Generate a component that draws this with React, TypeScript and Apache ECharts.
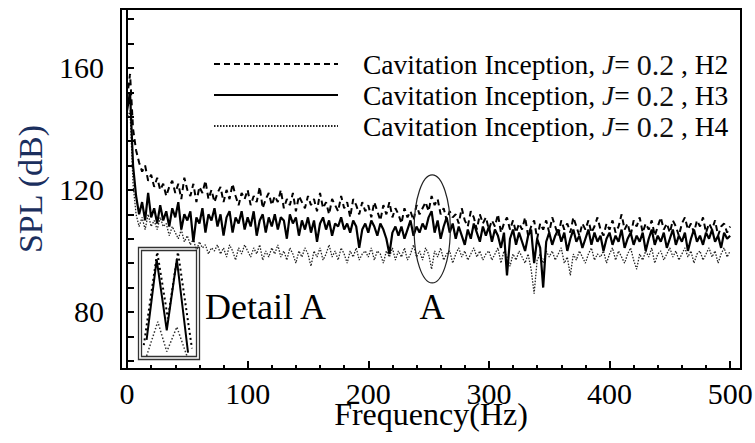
import React, { useEffect, useRef } from "react";
import * as echarts from "echarts";

// Frequency resolution of the spectra (Hz per bin)
const DF = 2.5;

// SPL (dB), Cavitation Inception J=0.2, hydrophone H2 (dashed)
const H2 = [
  150, 158, 140, 133, 129, 126, 128, 123, 125, 121,
  124, 120, 122, 118, 121, 123, 119, 122, 117, 124,
  120, 118, 122, 116, 121, 119, 123, 117, 120, 116,
  119, 121, 116, 120, 117, 122, 118, 115, 119, 117,
  120, 115, 118, 116, 121, 114, 117, 119, 115, 118,
  116, 120, 114, 117, 115, 119, 113, 118, 116, 114,
  118, 115, 117, 113, 119, 114, 116, 112, 117, 115,
  113, 118, 114, 116, 111, 117, 115, 112, 116, 113,
  115, 111, 116, 113, 110, 115, 112, 116, 111, 114,
  112, 109, 114, 111, 113, 110, 115, 112, 114, 116,
  113, 118, 115, 117, 112, 114, 110, 113, 111, 112,
  109, 114, 110, 108, 113, 111, 107, 112, 109, 111,
  107, 110, 108, 112, 106, 109, 111, 107, 110, 106,
  109, 107, 111, 105, 108, 110, 104, 109, 107, 110,
  106, 111, 108, 105, 110, 107, 109, 106, 111, 108,
  105, 109, 107, 110, 106, 108, 111, 107, 105, 109,
  107, 110, 106, 108, 112, 107, 109, 105, 110, 108,
  111, 106, 109, 107, 110, 105, 108, 111, 107, 109,
  106, 110, 108, 105, 109, 111, 107, 109, 106, 110,
  108, 111, 106, 109, 107, 110, 105, 108, 109, 106,
  108,
];

// SPL (dB), hydrophone H3 (solid)
const H3 = [
  146, 152, 128, 118, 112, 116, 110, 119, 111, 114,
  109, 115, 110, 113, 108, 114, 111, 116, 107, 112,
  110, 113, 103, 111, 109, 114, 106, 112, 110, 114,
  108, 112, 105, 111, 113, 106, 111, 109, 113, 107,
  111, 108, 113, 105, 110, 112, 106, 111, 108, 112,
  107, 111, 110, 104, 112, 109, 111, 105, 110, 107,
  111, 106, 110, 103, 109, 111, 107, 110, 105, 109,
  108, 111, 107, 109, 106, 110, 108, 101, 107, 109,
  106, 110, 108, 105, 109, 107, 104, 99, 106, 108,
  105, 108, 104, 107, 110, 105, 108, 106, 109, 107,
  111, 113, 106, 110, 104, 108, 111, 106, 109, 104,
  108, 105, 102, 107, 104, 109, 106, 103, 108, 105,
  108, 103, 107, 105, 101, 106, 92, 104, 107, 102,
  106, 103, 100, 105, 107, 96, 104, 101, 88, 103,
  106, 102, 105, 107, 103, 106, 100, 104, 107, 103,
  105, 101, 104, 107, 102, 106, 103, 105, 100, 104,
  106, 102, 105, 103, 107, 101, 104, 106, 102, 105,
  103, 106, 100, 104, 107, 102, 105, 103, 106, 101,
  104, 107, 102, 105, 103, 106, 100, 104, 107, 103,
  105, 102, 106, 104, 107, 103, 105, 101, 106, 104,
  105,
];

// SPL (dB), hydrophone H4 (dotted)
const H4 = [
  143, 146, 122, 112, 108, 111, 107, 112, 108, 110,
  107, 111, 108, 109, 105, 108, 106, 104, 107, 103,
  105, 102, 104, 100, 103, 101, 102, 99, 101, 100,
  102, 99, 101, 98, 102, 100, 97, 101, 99, 102,
  100, 98, 101, 99, 102, 97, 100, 98, 101, 99,
  102, 98, 100, 97, 101, 99, 96, 100, 98, 101,
  99, 95, 100, 98, 101, 97, 99, 102, 98, 100,
  97, 101, 99, 96, 100, 98, 101, 97, 99, 100,
  98, 101, 97, 100, 99, 96, 100, 98, 101, 97,
  100, 98, 101, 97, 99, 102, 98, 100, 97, 101,
  99, 94, 100, 98, 101, 97, 99, 100, 96, 99,
  101, 98, 100, 97, 99, 101, 98, 100, 97, 99,
  100, 97, 99, 101, 96, 100, 98, 95, 99, 97,
  100, 98, 96, 99, 94, 86, 97, 99, 96, 100,
  98, 100, 97, 99, 101, 96, 98, 92, 99, 97,
  100, 98, 96, 99, 101, 97, 99, 98, 100, 96,
  99, 101, 97, 100, 98, 96, 99, 101, 97, 94,
  99, 97, 100, 98, 101, 96, 99, 100, 97, 99,
  101, 98, 100, 97, 99, 101, 98, 100, 96, 99,
  100, 97, 99, 101, 98, 100, 96, 99, 101, 98,
  100,
];

const SERIES_NAMES = ["H2", "H3", "H4"];

// Axis ticks / labels
const X_LABELS = [0, 100, 200, 300, 400, 500];
const X_MINOR = [20, 40, 60, 80, 120, 140, 160, 180, 220, 240, 260, 280, 320, 340, 360, 380, 420, 440, 460, 480];
const Y_LABELS = [80, 120, 160];
const Y_TICKS = [64, 72, 80, 88, 96, 104, 112, 120, 128, 136, 144, 152, 160, 168, 176];

// "Detail A" inset sketch (relative units: x 0..10, y 0..100)
const INSET_H2 = [[0.5, 11], [2.9, 98], [4.8, 36], [6.6, 98], [9.1, 8]];
const INSET_H3 = [[1.0, 16], [2.8, 91], [4.6, 25], [6.4, 91], [8.4, 4]];
const INSET_H4 = [[1.0, 1], [3.0, 33], [4.6, 5], [6.4, 28], [8.2, 1]];

// Ellipse annotation "A" (data coordinates)
const ELLIPSE_CENTER = [253, 107.2];
const ELLIPSE_HALF = [15, 17.7];

const FONT = "Liberation Serif";

const toPairs = (arr: number[]) => arr.map((v, i) => [i * DF, v]);

export default function App() {
  const ref = useRef<HTMLDivElement>(null);

  useEffect(() => {
    if (!ref.current) return;
    const chart = echarts.init(ref.current, null, { renderer: "svg" });

    const lineStyles: any[] = [
      { color: "#000", width: 2, type: [6, 4] },
      { color: "#000", width: 2.2, type: "solid" },
      { color: "#222", width: 1.3, type: [1.5, 1.5] },
    ];

    const option: any = {
      animation: false,
      backgroundColor: "#fff",
      grid: [
        {
          left: 121,
          top: 9,
          width: 620,
          height: 360,
          show: true,
          borderColor: "#000",
          borderWidth: 2,
          backgroundColor: "transparent",
          outerBoundsMode: "none",
          containLabel: false,
        },
        { left: 141, top: 250, width: 56, height: 107, outerBoundsMode: "none", containLabel: false },
      ],
      legend: {
        orient: "vertical",
        left: 213,
        top: 49,
        padding: 0,
        itemWidth: 124,
        itemHeight: 12,
        itemGap: 1,
        data: SERIES_NAMES,
        itemStyle: { opacity: 0 },
        formatter: (name: string) =>
          `{a|Cavitation Inception, }{j|J}{a|= }{n|0.2}{a| , ${name}}`,
        textStyle: {
          padding: [0, 0, 0, 20],
          fontFamily: FONT,
          fontSize: 27.5,
          color: "#000",
          rich: {
            a: { fontFamily: FONT, fontSize: 27.5, color: "#000", lineHeight: 30 },
            j: { fontFamily: FONT, fontSize: 27.5, fontStyle: "italic", color: "#111", lineHeight: 30 },
            n: { fontFamily: FONT, fontSize: 30, color: "#111", lineHeight: 30 },
          },
        },
      },
      xAxis: [
        {
          type: "value",
          gridIndex: 0,
          min: -5,
          max: 509,
          name: "Frequency(Hz)",
          nameLocation: "middle",
          nameGap: 34,
          nameMoveOverlap: false,
          nameTextStyle: { fontFamily: FONT, fontSize: 32, lineHeight: 22, color: "#000" },
          axisLine: { show: true, lineStyle: { color: "#000", width: 2 } },
          axisTick: { show: true, inside: true, length: 8, customValues: X_LABELS, lineStyle: { color: "#000", width: 2 } },
          axisLabel: { customValues: X_LABELS, fontFamily: FONT, fontSize: 30, lineHeight: 20, color: "#000", margin: 14 },
          splitLine: { show: false },
        },
        {
          type: "value",
          gridIndex: 0,
          position: "bottom",
          min: -5,
          max: 509,
          axisLine: { show: false },
          axisTick: { show: true, inside: true, length: 4, customValues: X_MINOR, lineStyle: { color: "#000", width: 2 } },
          axisLabel: { show: false },
          splitLine: { show: false },
        },
        { type: "value", gridIndex: 1, min: 0, max: 10, show: false },
      ],
      yAxis: [
        {
          type: "value",
          gridIndex: 0,
          min: 61.3,
          max: 179.3,
          name: "SPL (dB)",
          nameLocation: "middle",
          nameGap: 74,
          nameRotate: 90,
          nameTextStyle: { fontFamily: FONT, fontSize: 34, color: "#1b2f5e" },
          axisLine: { show: true, lineStyle: { color: "#000", width: 2 } },
          axisTick: { show: true, inside: true, length: 7, customValues: Y_TICKS, lineStyle: { color: "#000", width: 2 } },
          axisLabel: { customValues: Y_LABELS, fontFamily: FONT, fontSize: 30, color: "#000", margin: 17 },
          splitLine: { show: false },
        },
        { type: "value", gridIndex: 1, min: 0, max: 100, show: false },
      ],
      series: [
        {
          name: "H2",
          type: "line",
          xAxisIndex: 0,
          yAxisIndex: 0,
          data: toPairs(H2),
          symbol: "none",
          lineStyle: lineStyles[0],
          itemStyle: { color: "#000" },
          z: 3,
        },
        {
          name: "H3",
          type: "line",
          xAxisIndex: 0,
          yAxisIndex: 0,
          data: toPairs(H3),
          symbol: "none",
          lineStyle: lineStyles[1],
          itemStyle: { color: "#000" },
          z: 4,
        },
        {
          name: "H4",
          type: "line",
          xAxisIndex: 0,
          yAxisIndex: 0,
          data: toPairs(H4),
          symbol: "none",
          lineStyle: lineStyles[2],
          itemStyle: { color: "#222" },
          z: 2,
        },
        {
          name: "inset-H2",
          type: "line",
          xAxisIndex: 2,
          yAxisIndex: 1,
          data: INSET_H2,
          symbol: "none",
          lineStyle: { color: "#000", width: 2, type: [2, 3] },
          silent: true,
        },
        {
          name: "inset-H3",
          type: "line",
          xAxisIndex: 2,
          yAxisIndex: 1,
          data: INSET_H3,
          symbol: "none",
          lineStyle: { color: "#000", width: 2 },
          silent: true,
        },
        {
          name: "inset-H4",
          type: "line",
          xAxisIndex: 2,
          yAxisIndex: 1,
          data: INSET_H4,
          symbol: "none",
          lineStyle: { color: "#333", width: 1.5, type: [1.5, 2] },
          silent: true,
        },
      ],
    };

    chart.setOption(option);

    const c = chart.convertToPixel({ gridIndex: 0 }, ELLIPSE_CENTER) as number[];
    const e = chart.convertToPixel({ gridIndex: 0 }, [
      ELLIPSE_CENTER[0] + ELLIPSE_HALF[0],
      ELLIPSE_CENTER[1] + ELLIPSE_HALF[1],
    ]) as number[];
    const rx = Math.abs(e[0] - c[0]);
    const ry = Math.abs(c[1] - e[1]);

    chart.setOption({
      graphic: [
        {
          type: "ellipse",
          shape: { cx: c[0], cy: c[1], rx, ry },
          style: { fill: "none", stroke: "#222", lineWidth: 1.2 },
          z: 10,
        },
        {
          type: "text",
          x: c[0],
          y: 307,
          style: { text: "A", fontFamily: FONT, fontSize: 35, fill: "#000", textAlign: "center", textVerticalAlign: "middle" },
          z: 10,
        },
        {
          type: "text",
          x: 205,
          y: 307,
          style: { text: "Detail A", fontFamily: FONT, fontSize: 36, fill: "#000", textAlign: "left", textVerticalAlign: "middle" },
          z: 10,
        },
        {
          type: "rect",
          shape: { x: 138.5, y: 247.5, width: 61, height: 112 },
          style: { fill: "#fff", stroke: "#333", lineWidth: 1.3 },
          z: 1,
        },
        {
          type: "rect",
          shape: { x: 141.5, y: 250.5, width: 55, height: 106 },
          style: { fill: "none", stroke: "#333", lineWidth: 1.3 },
          z: 1,
        },
      ],
    });

    return () => chart.dispose();
  }, []);

  return <div ref={ref} style={{ width: 755, height: 443, position: "absolute", left: 0, top: 0 }} />;
}
